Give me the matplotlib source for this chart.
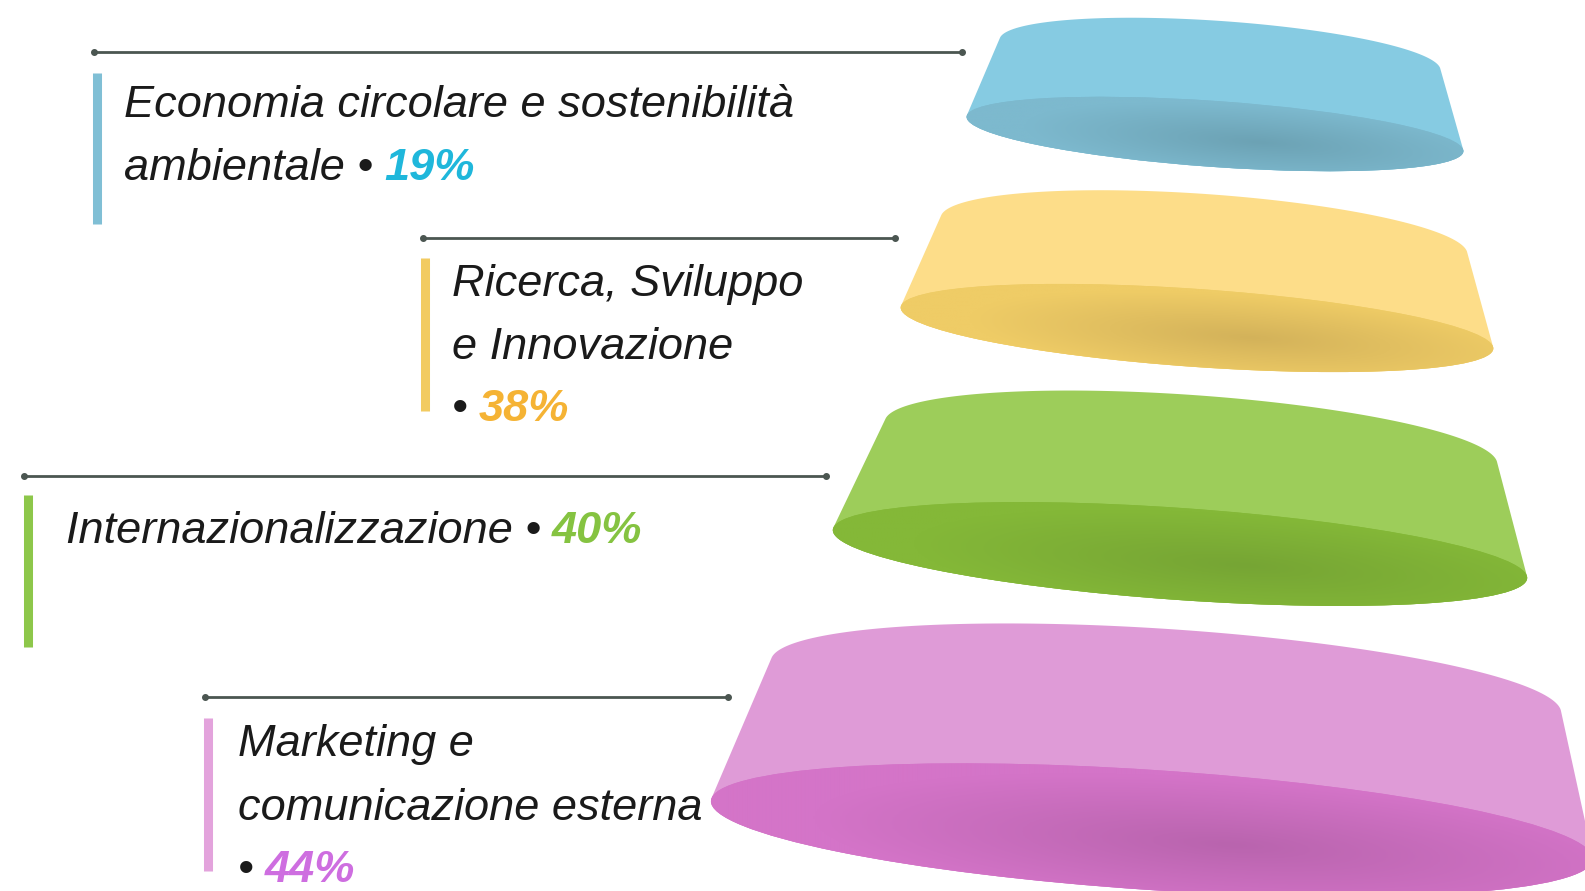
import numpy as np
import matplotlib
matplotlib.use("Agg")
import matplotlib.pyplot as plt
from matplotlib.patches import Ellipse, Polygon
from matplotlib.colors import LinearSegmentedColormap

# ---------------- data ----------------
categories = [
    "Economia circolare e sostenibilità ambientale",
    "Ricerca, Sviluppo e Innovazione",
    "Internazionalizzazione",
    "Marketing e comunicazione esterna",
]
label_lines = [
    ["Economia circolare e sostenibilità", "ambientale •"],
    ["Ricerca, Sviluppo", "e Innovazione", "•"],
    ["Internazionalizzazione •"],
    ["Marketing e", "comunicazione esterna", "•"],
]
values = [19, 38, 40, 44]
pct_labels = [f"{v}%" for v in values]

# ---------------- styles ----------------
pct_colors = ["#1FB7DB", "#F5B334", "#85C341", "#CE6EE0"]
bar_colors = ["#80BFD5", "#F2CB60", "#8DC74A", "#E3A3DC"]
side_colors = ["#86CBE2", "#FDDD89", "#9DCD5A", "#DF9BD7"]
bottom_edge = ["#7DB9CE", "#EFCC66", "#84B838", "#D474C8"]
bottom_center = ["#6CA2B4", "#D3B25A", "#76A534", "#B964AE"]
line_color = "#4B5651"

# ---------------- layout (pixel coordinates) ----------------
# disc: top ellipse (cx, cy, a, b), bottom ellipse (cx, cy, a, b), tilt deg
discs = [
    dict(top=(1220, 55, 221, 34), bot=(1215, 134, 249, 33), ang=4.0),
    dict(top=(1204, 236, 264, 42), bot=(1197, 328, 297, 39), ang=4.0),
    dict(top=(1191, 443, 307, 48), bot=(1180, 554, 348, 46), ang=4.0),
    dict(top=(1166, 687, 396, 58), bot=(1152, 830, 442, 60), ang=3.8),
]
# leader line: (x0, x1, y)
leaders = [(94, 962, 52), (423, 895, 238), (24, 826, 476), (205, 728, 697)]
# vertical bar: (x, y0, y1)
vbars = [(97, 73, 224), (425, 258, 411), (28, 495, 647), (208, 718, 871)]
# text start x, baselines
text_x = [124, 452, 66, 238]
text_base = [[117, 180], [296, 359, 421], [543], [756, 820, 882]]

W, H = 1585, 891
fig = plt.figure(figsize=(W / 100, H / 100), dpi=100)
ax = fig.add_axes([0, 0, 1, 1])
ax.set_xlim(0, W)
ax.set_ylim(H, 0)
ax.axis("off")


def ell_pts(cx, cy, a, b, ang, t):
    th = np.deg2rad(ang)
    x = cx + a * np.cos(t) * np.cos(th) - b * np.sin(t) * np.sin(th)
    y = cy + a * np.cos(t) * np.sin(th) + b * np.sin(t) * np.cos(th)
    return x, y


def convex_hull(points):
    pts = sorted(set(map(tuple, np.round(points, 3))))
    def cross(o, a, b):
        return (a[0] - o[0]) * (b[1] - o[1]) - (a[1] - o[1]) * (b[0] - o[0])
    lower, upper = [], []
    for p in pts:
        while len(lower) >= 2 and cross(lower[-2], lower[-1], p) <= 0:
            lower.pop()
        lower.append(p)
    for p in reversed(pts):
        while len(upper) >= 2 and cross(upper[-2], upper[-1], p) <= 0:
            upper.pop()
        upper.append(p)
    return np.array(lower[:-1] + upper[:-1])


for i, d in enumerate(discs):
    tcx, tcy, ta, tb = d["top"]
    bcx, bcy, ba, bb = d["bot"]
    ang = d["ang"]
    t = np.linspace(0, 2 * np.pi, 720, endpoint=False)
    xt, yt = ell_pts(tcx, tcy, ta, tb, ang, t)
    xb, yb = ell_pts(bcx, bcy, ba, bb, ang, t)
    hull = convex_hull(np.column_stack([np.r_[xt, xb], np.r_[yt, yb]]))
    ax.add_patch(Polygon(hull, closed=True, fc=side_colors[i], ec="none", zorder=2))
    # bottom ellipse with radial gradient
    ell = Ellipse((bcx, bcy), 2 * ba, 2 * bb, angle=ang, fc=bottom_edge[i],
                  ec="none", zorder=3)
    ax.add_patch(ell)
    x0, x1 = bcx - ba - 5, bcx + ba + 5
    y0, y1 = bcy - bb - 40, bcy + bb + 40
    xs = np.linspace(x0, x1, 500)
    ys = np.linspace(y0, y1, 200)
    X, Y = np.meshgrid(xs, ys)
    th = np.deg2rad(ang)
    gx, gy = bcx + 0.18 * ba, bcy + 0.25 * bb
    u = ((X - gx) * np.cos(th) + (Y - gy) * np.sin(th)) / (ba * 0.95)
    v = (-(X - gx) * np.sin(th) + (Y - gy) * np.cos(th)) / (bb * 1.1)
    r = np.clip(np.sqrt(u ** 2 + v ** 2), 0, 1)
    cmap = LinearSegmentedColormap.from_list("g", [bottom_center[i], bottom_edge[i]])
    im = ax.imshow(r, cmap=cmap, vmin=0, vmax=1, extent=(x0, x1, y0, y1),
                   origin="lower", aspect="auto", zorder=4, interpolation="bilinear")
    im.set_clip_path(ell)

ax.set_xlim(0, W)
ax.set_ylim(H, 0)

# leader lines, bars and text
for i in range(len(categories)):
    lx0, lx1, ly = leaders[i]
    ax.plot([lx0, lx1], [ly, ly], color=line_color, lw=2.0, zorder=5,
            solid_capstyle="butt")
    ax.plot([lx0, lx1], [ly, ly], "o", color=line_color, ms=4, zorder=6)
    bx, by0, by1 = vbars[i]
    ax.plot([bx, bx], [by0, by1], color=bar_colors[i], lw=6.5, zorder=5,
            solid_capstyle="butt")
    last = None
    for line, base in zip(label_lines[i], text_base[i]):
        last = ax.text(text_x[i], base, line, fontsize=32.5, fontstyle="italic",
                       family="Liberation Sans", color="#1A1A1A", va="baseline",
                       ha="left", zorder=7)
    ax.annotate(pct_labels[i], xy=(1, 0), xycoords=last, xytext=(8, 0),
                textcoords="offset points", fontsize=32.5, fontstyle="italic",
                fontweight="bold", family="Liberation Sans", color=pct_colors[i],
                va="bottom", ha="left", zorder=7)

fig.savefig("out.png", dpi=100)
